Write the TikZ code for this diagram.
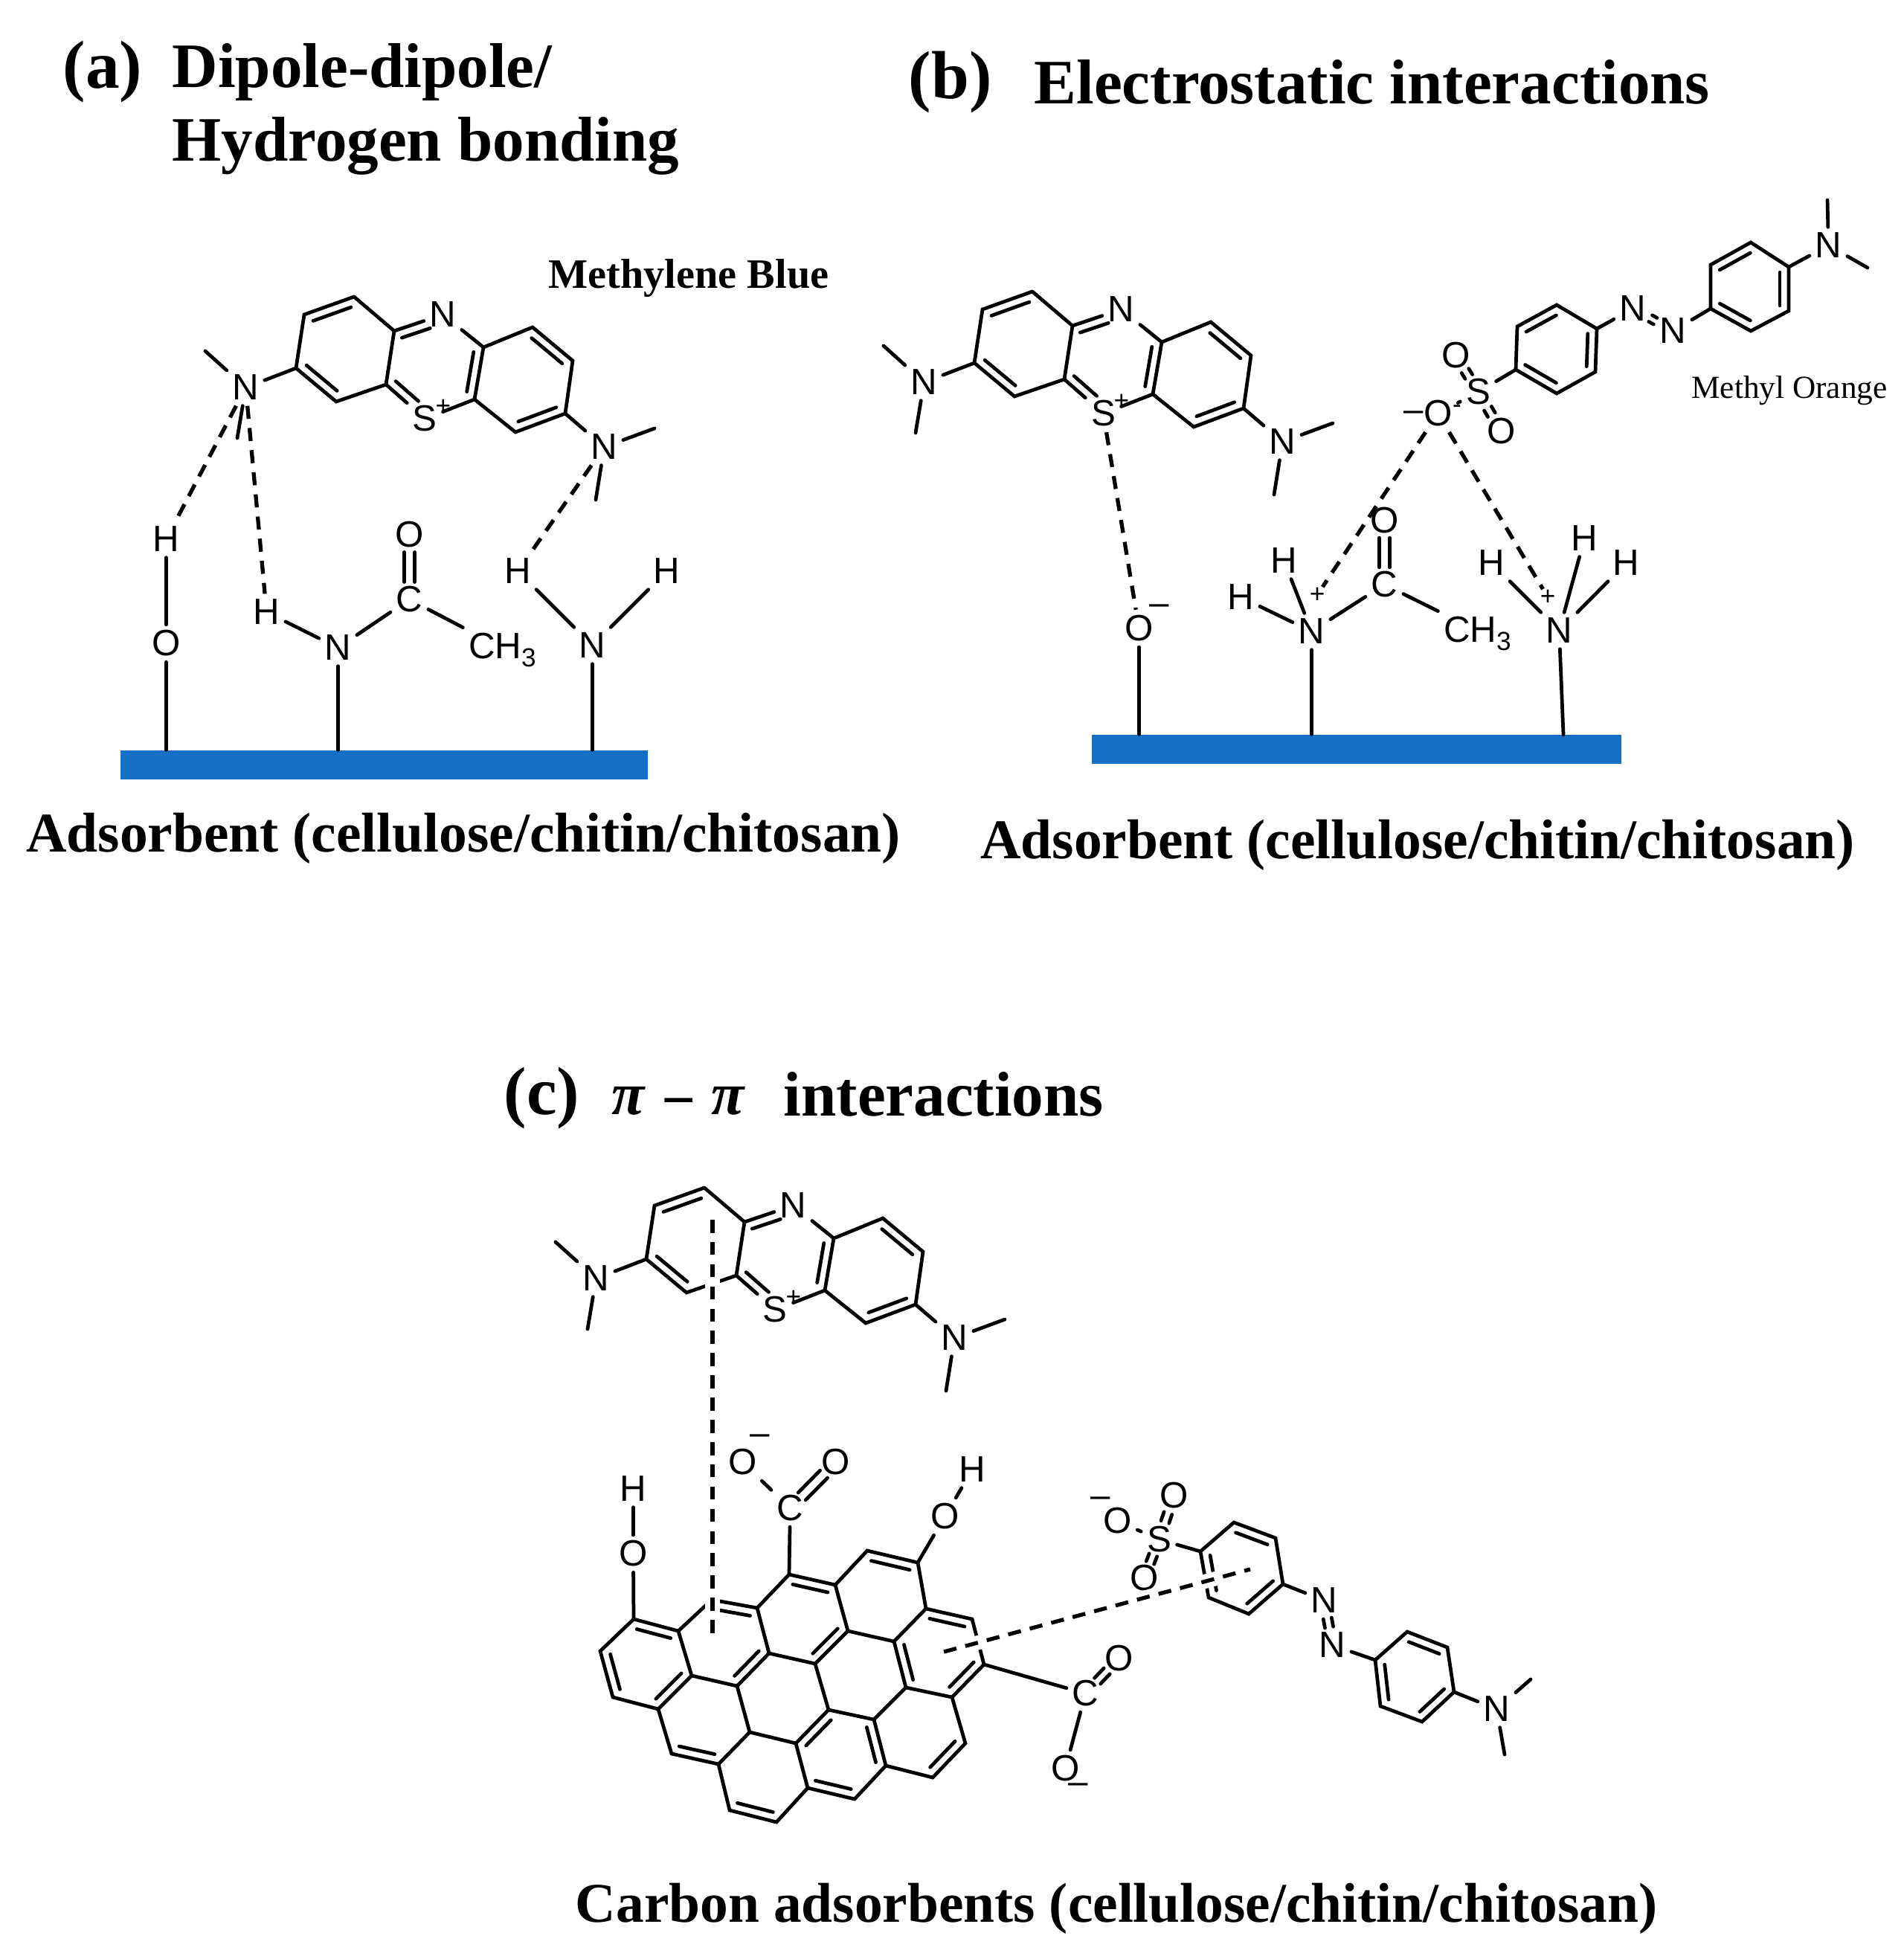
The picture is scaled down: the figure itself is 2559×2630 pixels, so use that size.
\documentclass[tikz,border=0pt]{standalone}
\usepackage{fontspec}
\setmainfont{Liberation Serif}
\newfontfamily\atomfont{Liberation Sans}
\usetikzlibrary{calc}

\newcommand{\dblat}[4]{\draw[bond] ($(#1)!#3!(#2)!3.4pt!-90:(#2)$) -- ($(#2)!#4!(#1)!3.4pt!90:(#1)$);}
\newcommand{\dbl}[2]{\dblat{#1}{#2}{.12}{.12}}
\newcommand{\twin}[4][.3]{
\draw[bond] ($(#2)!#1!(#3)!#4!90:(#3)$) -- ($(#3)!#1!(#2)!#4!-90:(#2)$);
\draw[bond] ($(#2)!#1!(#3)!#4!-90:(#3)$) -- ($(#3)!#1!(#2)!#4!90:(#2)$);
}

\tikzset{
  bond/.style={line width=1.35pt,line cap=round},
  hbond/.style={line width=1.5pt,dash pattern=on 5pt off 3.5pt},
  pibond/.style={line width=1.5pt,dash pattern=on 5pt off 3.5pt,preaction={draw,white,solid,line width=5.5pt}},
  atom/.style={font=\atomfont\fontsize{14}{15}\selectfont,inner sep=2pt,xshift=.4pt},
  charge/.style={font=\atomfont\fontsize{10}{12}\selectfont,inner sep=0pt},
  minus/.style={font=\atomfont\fontsize{13.5}{15}\selectfont,inner sep=0pt},
  heading/.style={font=\fontsize{24.2}{28}\selectfont\bfseries,anchor=west,inner sep=0pt},
  tag/.style={font=\fontsize{26}{28}\selectfont\bfseries,anchor=west,inner sep=0pt},
  caption/.style={font=\fontsize{21.45}{25}\selectfont\bfseries,inner sep=0pt},
  slab/.style={fill=slabblue,inner sep=0pt,minimum height=0.39cm},
  mblue/.pic={
    \coordinate (-c1) at (0,0);
    \coordinate (-c2) at (-67,24);
    \coordinate (-c3) at (-78,96);
    \coordinate (-c4) at (-24,141);
    \coordinate (-c5) at (43,118);
    \coordinate (-c6) at (54,46);
    \coordinate (-c7) at (174,68);
    \coordinate (-c8) at (162,138);
    \coordinate (-c9) at (240,41);
    \coordinate (-c10) at (294,86);
    \coordinate (-c11) at (284,157);
    \coordinate (-c12) at (217,182);
    \node[atom] (-n) at (118,24) {N};
    \node[atom] (-s) at (94,164) {S};
    \node[charge] (-plus) at (120,148) {+};
    \node[atom] (-nl) at (-147,122) {N};
    \node[atom] (-nr) at (335,202) {N};
    \coordinate (-ml1) at (-200,73);
    \coordinate (-ml2) at (-157,190);
    \coordinate (-mr1) at (404,177);
    \coordinate (-mr2) at (325,273);
    \draw[bond] (-c1) -- (-c2) -- (-c3) -- (-c4) -- (-c5) -- (-c6) -- (-c1);
    \draw[bond] (-c6) -- (-n) -- (-c7) -- (-c8) -- (-s) -- (-c5);
    \draw[bond] (-c7) -- (-c9) -- (-c10) -- (-c11) -- (-c12) -- (-c8);
    \draw[bond] (-c3) -- (-nl);
    \draw[bond] (-c11) -- (-nr);
    \draw[bond] (-nl) -- (-ml1);
    \draw[bond] (-nl) -- (-ml2);
    \draw[bond] (-nr) -- (-mr1);
    \draw[bond] (-nr) -- (-mr2);
    \dbl{-c2}{-c1}
    \dbl{-c4}{-c3}
    \dbl{-c7}{-c8}
    \dbl{-c9}{-c10}
    \dbl{-c11}{-c12}
    \dblat{-c6}{-n}{.1}{.32}
    \dblat{-s}{-c5}{.32}{.1}
  }
}
\definecolor{slabblue}{HTML}{1670C6}

\begin{document}
\begin{tikzpicture}[x=0.01cm,y=-0.01cm]
\useasboundingbox (0,0) rectangle (2559,2630);

\node[tag] (alabel) at (84,97) {(a)};
\node[heading] (atitle) at (231,97) {Dipole-dipole/};
\node[heading] (atitleb) at (231,196) {Hydrogen bonding};
\node[font=\fontsize{16}{19}\selectfont\bfseries,inner sep=0pt] (aname) at (926,374) {Methylene Blue};

\pic (am) at (476,399) {mblue};
\node[slab,minimum width=7.09cm] (aslab) at (516.5,1028.5) {};
\node[atom] (ah1) at (222,725) {H};
\node[atom] (ao1) at (222,865) {O};
\node[atom] (ah2) at (357,823) {H};
\node[atom] (an2) at (453,871) {N};
\node[atom] (ac) at (549,806) {C};
\node[atom] (ao2) at (549,719) {O};
\node[atom] (ach) at (674,874) {CH\raisebox{-3pt}{\fontsize{10}{12}\selectfont 3}};
\node[atom] (ah3) at (695,768) {H};
\node[atom] (ah4) at (895,768) {H};
\node[atom] (an3) at (795,868) {N};
\draw[bond] (ah1) -- (ao1);
\draw[bond] (ao1) -- (ao1 |- aslab.north);
\draw[bond] (ah2) -- (an2);
\draw[bond] (an2) -- (an2 |- aslab.north);
\draw[bond] (an2) -- (ac);
\draw[bond] (ac) -- (ach.north west);
\twin[.27]{ac}{ao2}{2pt}
\draw[bond] (ah3) -- (an3);
\draw[bond] (ah4) -- (an3);
\draw[bond] (an3) -- (an3 |- aslab.north);
\draw[hbond] (am-nl) -- (ah1);
\draw[hbond] (am-nl) -- (ah2);
\draw[hbond] (am-nr) -- (ah3);
\node[caption] (acap) at (623,1127) {Adsorbent (cellulose/chitin/chitosan)};

\node[tag] (blabel) at (1221,111) {(b)};
\node[heading] (btitle) at (1390,110) {Electrostatic interactions};
\node[font=\fontsize{12.3}{15}\selectfont,inner sep=0pt] (bname) at (2406,525) {Methyl Orange};

\pic (bm) at (1388,392) {mblue};
\node[slab,minimum width=7.12cm] (bslab) at (1824,1007.5) {};
\node[atom] (bo1) at (1530,845) {O};
\node[minus] (bminus) at (1559,820) {–};
\node[atom] (bn2) at (1762,849) {N};
\node[atom] (bh1) at (1725,754) {H};
\node[atom] (bh2) at (1667,803) {H};
\node[charge] (bplus1) at (1771,800) {+};
\node[atom] (bc) at (1860,786) {C};
\node[atom] (bo2) at (1860,700) {O};
\node[atom] (bch) at (1985,852) {CH\raisebox{-3pt}{\fontsize{10}{12}\selectfont 3}};
\node[atom] (bn3) at (2095,848) {N};
\node[atom] (bh3) at (2129,724) {H};
\node[atom] (bh4) at (2004,757) {H};
\node[atom] (bh5) at (2185,757) {H};
\node[charge] (bplus2) at (2081,803) {+};
\coordinate (bfoot) at (2102,988);
\draw[bond] (bo1) -- (bo1 |- bslab.north);
\draw[bond] (bn2) -- (bn2 |- bslab.north);
\draw[bond] (bh1) -- (bn2);
\draw[bond] (bh2) -- (bn2);
\draw[bond] (bn2) -- (bc);
\draw[bond] (bc) -- (bch.north west);
\twin[.27]{bc}{bo2}{2pt}
\draw[bond] (bn3) -- (bfoot);
\draw[bond] (bh3) -- (bn3);
\draw[bond] (bh4) -- (bn3);
\draw[bond] (bh5) -- (bn3);

\node[atom] (bs) at (1986,527) {S};
\node[atom] (bso1) at (1956,478) {O};
\node[atom] (bso2) at (2017,580) {O};
\node[atom] (bso3) at (1932,556) {O};
\node[minus] (bso3l) at (1901,560) {–};
\node[charge] (bso3r) at (1959,550) {-};
\coordinate (br1) at (2038,497);
\coordinate (br2) at (2040,439);
\coordinate (br3) at (2093,410);
\coordinate (br4) at (2147,442);
\coordinate (br5) at (2145,500);
\coordinate (br6) at (2093,529);
\node[atom] (bn4) at (2194,415) {N};
\node[atom] (bn5) at (2248,445) {N};
\coordinate (bq1) at (2300,415);
\coordinate (bq2) at (2300,356);
\coordinate (bq3) at (2354,326);
\coordinate (bq4) at (2405,359);
\coordinate (bq5) at (2405,418);
\coordinate (bq6) at (2354,445);
\node[atom] (bn6) at (2457,330) {N};
\coordinate (bme1) at (2457,269);
\coordinate (bme2) at (2511,360);
\draw[bond] (br1) -- (br2) -- (br3) -- (br4) -- (br5) -- (br6) -- (br1);
\draw[bond] (bq1) -- (bq2) -- (bq3) -- (bq4) -- (bq5) -- (bq6) -- (bq1);
\draw[bond] (bs) -- (br1);
\draw[bond] (br4) -- (bn4);
\draw[bond] (bn5) -- (bq1);
\draw[bond] (bq4) -- (bn6);
\draw[bond] (bn6) -- (bme1);
\draw[bond] (bn6) -- (bme2);
\draw[bond] (bso3) -- (bs);
\dbl{br2}{br3}
\dbl{br4}{br5}
\dbl{br6}{br1}
\dbl{bq2}{bq3}
\dbl{bq4}{bq5}
\dbl{bq6}{bq1}
\twin[.42]{bs}{bso1}{1.6pt}
\twin[.42]{bs}{bso2}{1.6pt}
\twin[.44]{bn4}{bn5}{1.4pt}
\draw[hbond] (bm-s) -- (bo1);
\draw[hbond] (bso3) -- (bplus1);
\draw[hbond] (bso3) -- (bplus2);
\node[caption] (bcap) at (1906,1136) {Adsorbent (cellulose/chitin/chitosan)};

\node[tag] (clabel) at (677,1476) {(c)};
\node[heading,font=\fontsize{23}{28}\selectfont\bfseries\itshape] (cpi) at (822,1484) {π \raisebox{-2.5pt}{−} π};
\node[heading] (ctitle) at (1053,1471) {interactions};

\pic (cm) at (947,1597) {mblue};

\coordinate (v1) at (852,2177);
\coordinate (v2) at (912,2193);
\coordinate (v3) at (807,2220);
\coordinate (v4) at (824,2282);
\coordinate (v5) at (885,2298);
\coordinate (v6) at (930,2253);
\coordinate (v7) at (957,2151);
\coordinate (v8) at (1018,2162);
\coordinate (v9) at (1061,2117);
\coordinate (v10) at (1123,2131);
\coordinate (v11) at (1166,2085);
\coordinate (v12) at (1234,2101);
\coordinate (v13) at (1245,2163);
\coordinate (v14) at (1307,2177);
\coordinate (v15) at (1323,2238);
\coordinate (v16) at (1280,2282);
\coordinate (v17) at (1218,2269);
\coordinate (v18) at (1202,2207);
\coordinate (v19) at (1140,2193);
\coordinate (v20) at (1096,2237);
\coordinate (v21) at (1034,2223);
\coordinate (v22) at (991,2267);
\coordinate (v23) at (1008,2329);
\coordinate (v24) at (966,2372);
\coordinate (v25) at (903,2358);
\coordinate (v26) at (1114,2299);
\coordinate (v27) at (1175,2312);
\coordinate (v28) at (1191,2374);
\coordinate (v29) at (1254,2390);
\coordinate (v30) at (1298,2344);
\coordinate (v31) at (1070,2344);
\coordinate (v32) at (1086,2404);
\coordinate (v33) at (1149,2419);
\coordinate (v34) at (981,2434);
\coordinate (v35) at (1044,2450);
\draw[bond] (v1) -- (v2) -- (v6) -- (v5) -- (v4) -- (v3) -- (v1);
\draw[bond] (v2) -- (v7) -- (v8) -- (v21) -- (v22) -- (v6);
\draw[bond] (v8) -- (v9) -- (v10) -- (v19) -- (v20) -- (v21);
\draw[bond] (v10) -- (v11) -- (v12) -- (v13) -- (v18) -- (v19);
\draw[bond] (v13) -- (v14) -- (v15) -- (v16) -- (v17) -- (v18);
\draw[bond] (v5) -- (v25) -- (v24) -- (v23) -- (v22);
\draw[bond] (v23) -- (v31) -- (v26) -- (v20);
\draw[bond] (v26) -- (v27) -- (v17);
\draw[bond] (v27) -- (v28) -- (v29) -- (v30) -- (v16);
\draw[bond] (v28) -- (v33) -- (v32) -- (v31);
\draw[bond] (v32) -- (v35) -- (v34) -- (v24);
\dbl{v1}{v2}
\dbl{v4}{v3}
\dbl{v6}{v5}
\dbl{v7}{v8}
\dbl{v21}{v22}
\dbl{v9}{v10}
\dbl{v19}{v20}
\dbl{v11}{v12}
\dbl{v13}{v14}
\dbl{v15}{v16}
\dbl{v17}{v18}
\dbl{v31}{v26}
\dbl{v27}{v28}
\dbl{v33}{v32}
\dbl{v30}{v29}
\dbl{v24}{v25}
\dbl{v35}{v34}

\node[atom] (co1) at (850,2089) {O};
\node[atom] (ch1) at (850,2002) {H};
\node[atom] (cc1) at (1061,2028) {C};
\node[atom] (co2) at (997,1966) {O};
\node[minus] (cminus1) at (1022,1936) {–};
\node[atom] (co3) at (1122,1966) {O};
\node[atom] (co4) at (1269,2039) {O};
\node[atom] (ch2) at (1306,1976) {H};
\node[atom] (cc2) at (1458,2277) {C};
\node[atom] (co5) at (1503,2230) {O};
\node[atom] (co6) at (1431,2378) {O};
\node[minus] (cminus2) at (1450,2405) {–};
\draw[bond] (v1) -- (co1);
\draw[bond] (co1) -- (ch1);
\draw[bond] (v9) -- (cc1);
\draw[bond] (cc1) -- (co2);
\twin[.26]{cc1}{co3}{2pt}
\draw[bond] (v12) -- (co4);
\draw[bond] (co4) -- (ch2);
\draw[bond] (v15) -- (cc2);
\draw[bond] (cc2) -- (co6);
\twin[.36]{cc2}{co5}{1.6pt}

\node[atom] (cs) at (1557,2070) {S};
\node[atom] (cso1) at (1501,2045) {O};
\node[minus] (cminus3) at (1480,2020) {–};
\node[atom] (cso2) at (1577,2011) {O};
\node[atom] (cso3) at (1537,2122) {O};
\coordinate (cr1) at (1614,2086);
\coordinate (cr2) at (1659,2047);
\coordinate (cr3) at (1715,2068);
\coordinate (cr4) at (1725,2130);
\coordinate (cr5) at (1679,2170);
\coordinate (cr6) at (1625,2148);
\node[atom] (cn1) at (1779,2152) {N};
\node[atom] (cn2) at (1790,2212) {N};
\coordinate (cq1) at (1849,2232);
\coordinate (cq2) at (1892,2194);
\coordinate (cq3) at (1946,2215);
\coordinate (cq4) at (1955,2275);
\coordinate (cq5) at (1912,2315);
\coordinate (cq6) at (1856,2294);
\node[atom] (cn3) at (2011,2298) {N};
\coordinate (cme1) at (2058,2258);
\coordinate (cme2) at (2023,2359);
\draw[bond] (cr1) -- (cr2) -- (cr3) -- (cr4) -- (cr5) -- (cr6) -- (cr1);
\draw[bond] (cq1) -- (cq2) -- (cq3) -- (cq4) -- (cq5) -- (cq6) -- (cq1);
\draw[bond] (cs) -- (cr1);
\draw[bond] (cso1) -- (cs);
\draw[bond] (cr4) -- (cn1);
\draw[bond] (cn2) -- (cq1);
\draw[bond] (cq4) -- (cn3);
\draw[bond] (cn3) -- (cme1);
\draw[bond] (cn3) -- (cme2);
\dbl{cr2}{cr3}
\dbl{cr4}{cr5}
\dbl{cr6}{cr1}
\dbl{cq2}{cq3}
\dbl{cq4}{cq5}
\dbl{cq6}{cq1}
\twin[.4]{cs}{cso2}{1.6pt}
\twin[.4]{cs}{cso3}{1.6pt}
\twin[.4]{cn1}{cn2}{1.6pt}

\coordinate (cpi1) at (958,1640);
\coordinate (cpi2) at (958,2205);
\coordinate (cpi3) at (1269,2221);
\coordinate (cpi4) at (1681,2110);
\draw[pibond] (cpi1) -- (cpi2);
\draw[pibond] (cpi3) -- (cpi4);
\node[caption] (ccap) at (1501,2566) {Carbon adsorbents (cellulose/chitin/chitosan)};
\end{tikzpicture}
\end{document}
